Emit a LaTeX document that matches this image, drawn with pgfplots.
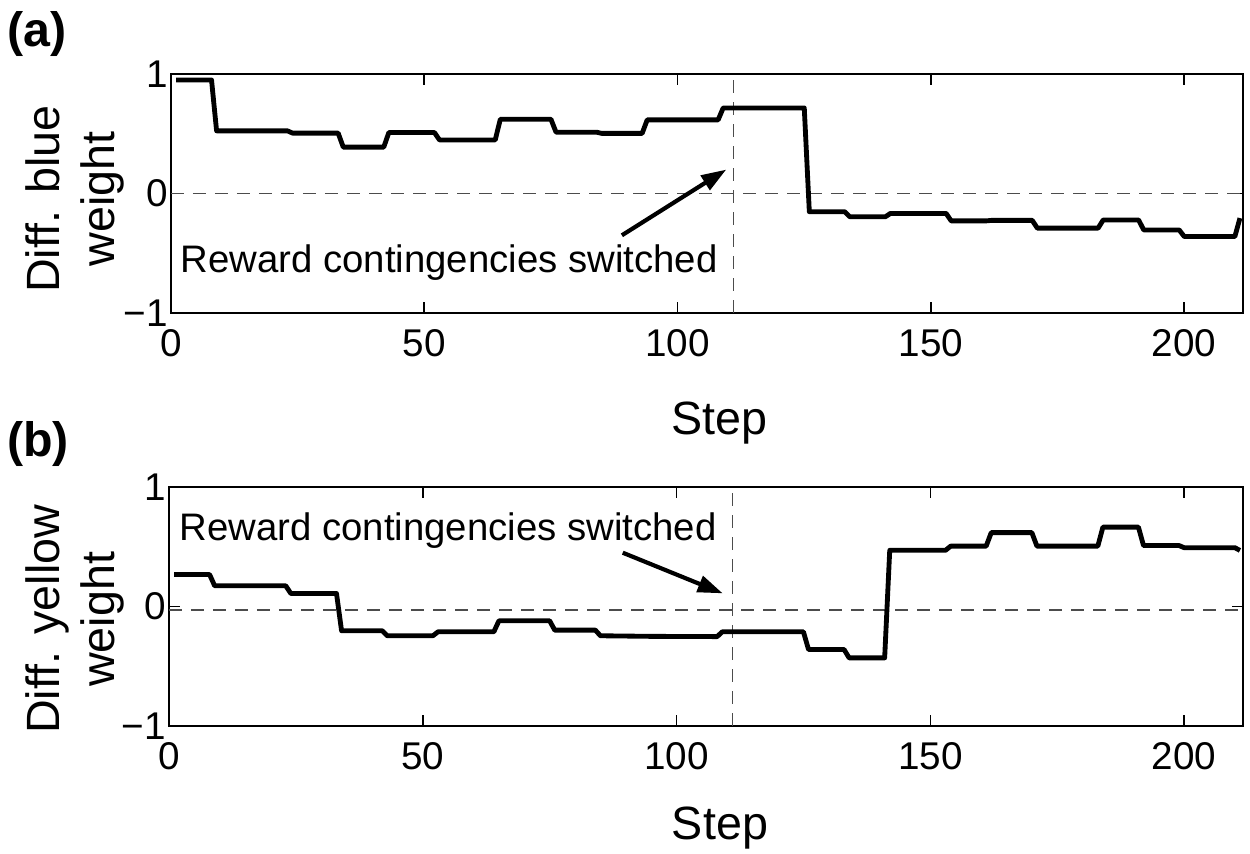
\documentclass[border=0pt]{standalone}
\usepackage{pgfplots}
\pgfplotsset{compat=1.18}
\usepackage{pgfplotstable}
\usepackage{fontspec}
\setmainfont{Liberation Sans}
\usetikzlibrary{arrows.meta}

\pgfplotstableread{
x y
1 0.95
8 0.95
9 0.524
23 0.524
24 0.505
33 0.505
34 0.388
42 0.388
43 0.51
52 0.51
53 0.448
64 0.448
65 0.621
75 0.621
76 0.513
84 0.513
85 0.503
93 0.503
94 0.616
108 0.616
109 0.716
125 0.716
126 -0.153
133 -0.153
134 -0.195
141 -0.195
142 -0.167
153 -0.167
154 -0.229
161 -0.229
162 -0.225
170 -0.225
171 -0.29
183 -0.29
184 -0.222
191 -0.222
192 -0.305
199 -0.305
200 -0.36
210 -0.36
211 -0.206
}\bluedata

\pgfplotstableread{
x y
1 0.267
8 0.267
9 0.173
23 0.173
24 0.109
33 0.109
34 -0.203
42 -0.203
43 -0.245
52 -0.245
53 -0.212
64 -0.212
65 -0.12
75 -0.12
76 -0.198
84 -0.198
85 -0.245
95 -0.25
108 -0.252
109 -0.212
125 -0.212
126 -0.36
133 -0.36
134 -0.43
141 -0.43
142 0.47
153 0.47
154 0.505
161 0.505
162 0.618
170 0.618
171 0.505
183 0.505
184 0.664
191 0.664
192 0.51
199 0.51
200 0.492
210 0.492
211 0.469
}\yellowdata

\pgfplotsset{
  panel/.style={
    scale only axis, width=321.6pt, height=71.7pt,
    xmin=0, xmax=211.6, ymin=-1, ymax=1,
    xtick={0,50,100,150,200}, ytick={-1,0,1}, yticklabels={−1,0,1},
    tick align=inside, major tick length=3.3pt,
    axis line style={line width=0.5pt},
    every tick/.style={black, line width=0.5pt},
    tick label style={font=\fontsize{11.6}{13.8}\selectfont},
    /pgf/number format/assume math mode=true,
    yticklabel style={inner xsep=0.8pt},
    xticklabel style={yshift=-1.5pt},
    label style={font=\fontsize{14}{16.5}\selectfont},
  },
}
\tikzset{
  dline/.style={black!70, line width=0.5pt, dash pattern=on 4pt off 2.6pt},
  dataline/.style={black, line width=1.45pt, line join=round},
  arr/.style={line width=1.25pt, -{Triangle[length=7.5pt,width=5pt]}},
  ann/.style={anchor=base, font=\fontsize{11.5}{13}\selectfont},
}

\begin{document}
\begin{tikzpicture}
\useasboundingbox (0,0) rectangle (375pt,256.2pt);

\node[anchor=base west, inner sep=0pt, font=\bfseries\fontsize{14.5}{16}\selectfont] at (2pt,242.1pt) {(a)};
\node[anchor=base west, inner sep=0pt, font=\bfseries\fontsize{14.5}{16}\selectfont] at (2pt,119.2pt) {(b)};

\begin{axis}[panel, at={(51.3pt,162.3pt)}, anchor=south west,
  xlabel={Step},
  xlabel style={at={(axis description cs:0.512,0)}, anchor=base, yshift=-36.6pt},
  ylabel={Diff. blue\\weight},
  ylabel style={at={(axis description cs:-0.0429,0.477)}, anchor=south, inner sep=0pt, align=center},
]
\addplot[dline] coordinates {(0,0) (211.6,0)};
\addplot[dline] coordinates {(111,-1) (111,1)};
\addplot[dataline] table {\bluedata};
\draw[arr] (axis cs:89,-0.35) -- (axis cs:109.6,0.2);
\node[ann] at (axis cs:54.9,-0.66) {Reward contingencies switched};
\end{axis}

\begin{axis}[panel, at={(50.7pt,38.4pt)}, anchor=south west,
  width=322.2pt,
  xlabel={Step},
  xlabel style={at={(axis description cs:0.513,0)}, anchor=base, yshift=-34.2pt},
  ylabel={Diff. yellow\\weight},
  ylabel style={at={(axis description cs:-0.041,0.446)}, anchor=south, inner sep=0pt, align=center},
]
\addplot[dline] coordinates {(0,-0.027) (211.6,-0.027)};
\addplot[dline] coordinates {(111,-1) (111,1)};
\addplot[dataline] table {\yellowdata};
\draw[arr] (axis cs:89.4,0.45) -- (axis cs:109.1,0.11);
\node[ann] at (axis cs:55,0.555) {Reward contingencies switched};
\end{axis}
\end{tikzpicture}
\end{document}
